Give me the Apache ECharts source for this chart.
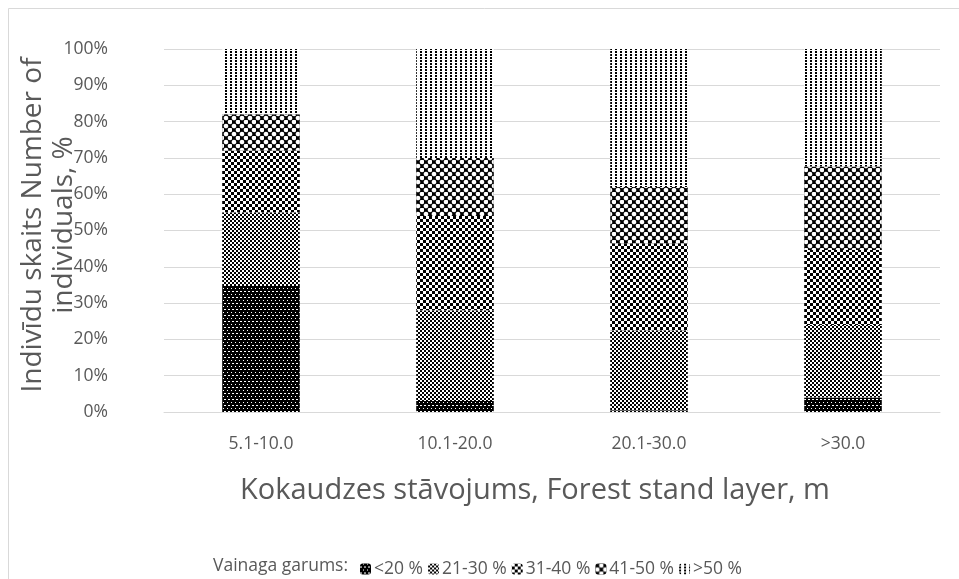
<!DOCTYPE html>
<html>
<head>
<meta charset="utf-8">
<script src="https://cdn.jsdelivr.net/npm/echarts@6/dist/echarts.min.js"></script>
<style>
html,body{margin:0;padding:0;background:#fff;}
#chart{width:959px;height:579px;}
</style>
</head>
<body>
<div id="chart"></div>
<script>
const categories = ['5.1-10.0', '10.1-20.0', '20.1-30.0', '>30.0'];
const seriesNames = ['<20 %', '21-30 %', '31-40 %', '41-50 %', '>50 %'];
const s_lt20 = [35, 3, 0.5, 4];
const s_21_30 = [20, 25, 22, 20];
const s_31_40 = [17, 26, 24, 20.6];
const s_41_50 = [10, 16, 15.5, 23];
const s_gt50 = [18, 30, 38, 32.4];
const yTicks = [0, 10, 20, 30, 40, 50, 60, 70, 80, 90, 100];

const FONT = '"Open Sans", sans-serif';
const GRAY = '#595959';

const decals = [
  {color: '#fff', symbol: 'rect', symbolSize: 1, dashArrayX: [[2, 2], [0, 3, 1, 0]], dashArrayY: [1, 2]},
  {color: '#000', symbol: 'rect', symbolSize: 1, dashArrayX: [[2, 2], [0, 2, 2, 0]], dashArrayY: [2, 0]},
  {color: '#000', symbol: 'rect', symbolSize: 1, dashArrayX: [[3, 3], [0, 3, 3, 0]], dashArrayY: [3, 0]},
  {color: '#fff', symbol: 'circle', symbolSize: 1.15, dashArrayX: [[4, 4], [0, 4, 4, 0]], dashArrayY: [4, 0]},
  {color: '#000', symbol: 'rect', symbolSize: 1, dashArrayX: [2, 3], dashArrayY: [2, 1]}
];
const baseColors = ['#000', '#fff', '#fff', '#000', '#fff'];
const dataArr = [s_lt20, s_21_30, s_31_40, s_41_50, s_gt50];

const series = seriesNames.map((n, i) => ({
  name: n,
  type: 'bar',
  stack: 'total',
  barWidth: '40%',
  data: dataArr[i],
  itemStyle: {color: baseColors[i], decal: decals[i]},
  emphasis: {disabled: true}
}));

const chart = echarts.init(document.getElementById('chart'), null, {renderer: 'canvas'});
chart.setOption({
  animation: false,
  backgroundColor: '#fff',
  grid: {left: 164, right: 19, top: 49, bottom: 167},
  xAxis: {
    type: 'category',
    data: categories,
    axisLine: {show: true, lineStyle: {color: '#d9d9d9'}},
    axisTick: {show: false},
    axisLabel: {color: GRAY, fontFamily: FONT, fontSize: 17.5, margin: 23}
  },
  yAxis: {
    type: 'value',
    min: 0, max: 100, interval: 10,
    axisLine: {show: false},
    axisTick: {show: false},
    splitLine: {lineStyle: {color: '#d9d9d9'}},
    axisLabel: {color: GRAY, fontFamily: FONT, fontSize: 17.5, margin: 56,
      formatter: v => yTicks.includes(v) ? v + '%' : ''}
  },
  legend: {
    left: 355, top: 555,
    itemWidth: 11, itemHeight: 11, itemGap: 5,
    textStyle: {color: GRAY, fontFamily: FONT, fontSize: 17.5, padding: [0, 0, 0, -2]},
    data: seriesNames
  },
  graphic: [
    {type: 'rect', shape: {x: 8.5, y: 8.5, width: 1000, height: 1000}, style: {fill: 'none', stroke: '#d9d9d9', lineWidth: 1}, silent: true},
    {type: 'text', x: 49, y: 225, rotation: Math.PI / 2,
      style: {text: 'Indivīdu skaits Number of\nindividuals, %', fill: GRAY, font: '28px ' + FONT, align: 'center', verticalAlign: 'middle', lineHeight: 31}},
    {type: 'text', x: 535, y: 491,
      style: {text: 'Kokaudzes stāvojums, Forest stand layer, m', fill: GRAY, font: '29px ' + FONT, align: 'center', verticalAlign: 'middle'}},
    {type: 'text', x: 213, y: 566,
      style: {text: 'Vainaga garums:', fill: GRAY, font: '17.5px ' + FONT, align: 'left', verticalAlign: 'middle'}}
  ],
  series: series
});
</script>
</body>
</html>
